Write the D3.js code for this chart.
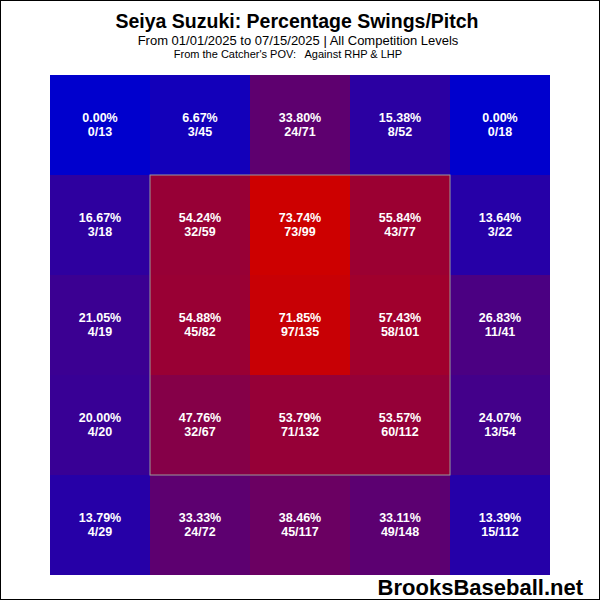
<!DOCTYPE html>
<html><head><meta charset="utf-8">
<script src="https://cdn.jsdelivr.net/npm/d3@7"></script>
<style>body{margin:0;background:#fff}</style></head>
<body><svg id="c" width="600" height="600"></svg>
<script>
const rows = [0,1,2,3,4];
const cols = [0,1,2,3,4];
const swings = [
  [0,3,24,8,0],
  [3,32,73,43,3],
  [4,45,97,58,11],
  [4,32,71,60,13],
  [4,24,45,49,15]
];
const pitches = [
  [13,45,71,52,18],
  [18,59,99,77,22],
  [19,82,135,101,41],
  [20,67,132,112,54],
  [29,72,117,148,112]
];
const svg = d3.select("#c");
svg.append("rect").attr("x",0.5).attr("y",0.5).attr("width",599).attr("height",599).attr("fill","#fff").attr("stroke","#000");
const x = d3.scaleBand().domain(cols).range([50,550]);
const y = d3.scaleBand().domain(rows).range([75,575]);
const cells = [];
rows.forEach(r=>cols.forEach(c=>cells.push({r,c,s:swings[r][c],n:pitches[r][c],p:swings[r][c]/pitches[r][c]})));
const maxP = d3.max(cells,d=>d.p);
const color = d3.scaleLinear().domain([0,maxP]).range(["rgb(0,0,205)","rgb(205,0,0)"]);
svg.selectAll("rect.cell").data(cells).enter().append("rect")
  .attr("x",d=>x(d.c)).attr("y",d=>y(d.r)).attr("width",x.bandwidth()).attr("height",y.bandwidth())
  .attr("fill",d=>color(d.p));
svg.append("rect").attr("x",x(1)).attr("y",y(1)).attr("width",x.bandwidth()*3).attr("height",y.bandwidth()*3)
  .attr("fill","none").attr("stroke","#999").attr("stroke-width",1);
const t = svg.selectAll("g.lab").data(cells).enter().append("g");
t.append("text").attr("x",d=>x(d.c)+50).attr("y",d=>y(d.r)+47).text(d=>(d.p*100).toFixed(2)+"%");
t.append("text").attr("x",d=>x(d.c)+50).attr("y",d=>y(d.r)+61).text(d=>d.s+"/"+d.n);
t.selectAll("text").attr("text-anchor","middle").attr("fill","#fff").attr("font-family","Liberation Sans, Arial").attr("font-weight","bold").attr("font-size",12.5);
const ft="Liberation Sans, Arial";
svg.append("text").attr("x",297).attr("y",28).attr("text-anchor","middle").attr("font-family",ft).attr("font-weight","bold").attr("font-size",19.5).text("Seiya Suzuki: Percentage Swings/Pitch");
svg.append("text").attr("x",298).attr("y",45).attr("text-anchor","middle").attr("font-family",ft).attr("font-size",13).text("From 01/01/2025 to 07/15/2025 | All Competition Levels");
svg.append("text").attr("x",288).attr("y",58).attr("text-anchor","middle").attr("font-family",ft).attr("font-size",11).attr("xml:space","preserve").text("From the Catcher's POV:   Against RHP & LHP");
svg.append("text").attr("x",583).attr("y",595).attr("text-anchor","end").attr("font-family",ft).attr("font-weight","bold").attr("font-size",22).text("BrooksBaseball.net");
</script></body></html>
